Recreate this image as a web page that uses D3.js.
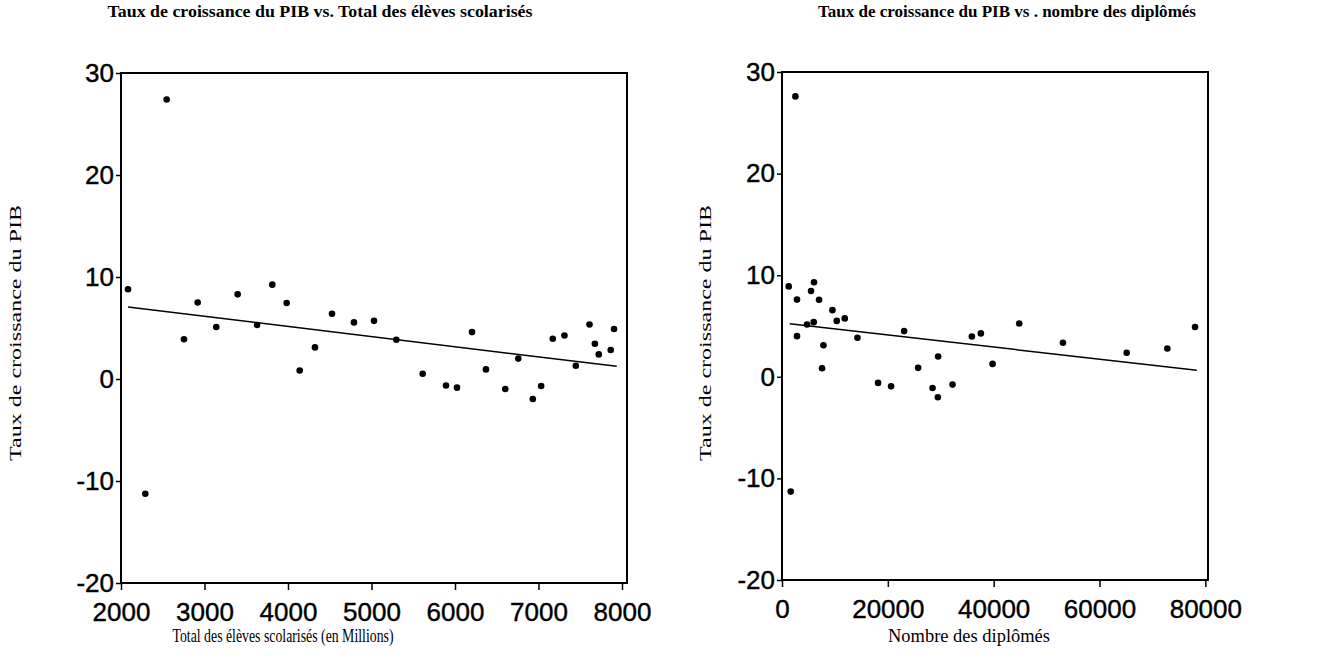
<!DOCTYPE html>
<html>
<head>
<meta charset="utf-8">
<script src="https://cdn.jsdelivr.net/npm/d3@7"></script>
<style>
  html, body { margin: 0; padding: 0; background: #fff; }
  svg { display: block; }
</style>
</head>
<body>
<svg id="chart" width="1340" height="670"></svg>
<script>
// ---- Data ----
const eleves = [2547, 2084, 2918, 2754, 3141, 3397, 3629, 3812, 3984, 4323, 4527, 4790, 5030, 5297, 6204,
  4140, 5613, 5892, 6024, 6371, 6602, 6758, 2291, 6932, 7032, 7171, 7311, 7447, 7611, 7675, 7722, 7865, 7905];
const croissanceA = [27.4, 8.8, 7.5, 3.9, 5.1, 8.3, 5.3, 9.25, 7.45, 3.1, 6.4, 5.55, 5.7, 3.85, 4.6,
  0.84, 0.52, -0.63, -0.85, 0.94, -0.98, 2.0, -11.25, -1.96, -0.69, 3.95, 4.27, 1.3, 5.35, 3.46, 2.41, 2.84, 4.9];
const fitAx = [2084, 7937];
const fitAy = [7.06, 1.24];

const diplomes = [2534, 1267, 2837, 2837, 4728, 5485, 6052, 5996, 6998, 7830, 9531, 10345, 11858, 14260, 23074,
  35877, 37579, 44822, 53088, 65134, 72813, 78052, 29504, 7565, 18156, 20615, 25721, 28444, 29447, 32227, 39792, 1645];
const croissanceB = [27.6, 8.9, 7.6, 4.0, 5.15, 8.44, 9.3, 5.38, 7.59, 3.1, 6.56, 5.5, 5.75, 3.84, 4.5,
  3.97, 4.27, 5.25, 3.35, 2.36, 2.78, 4.9, 2.0, 0.84, -0.6, -0.94, 0.88, -1.1, -2.02, -0.77, 1.27, -11.3];
const fitBx = [1456, 78375];
const fitBy = [5.22, 0.64];

const yTicks = [-20, -10, 0, 10, 20, 30];
const xTicksA = [2000, 3000, 4000, 5000, 6000, 7000, 8000];
const xTicksB = [0, 20000, 40000, 60000, 80000];

const titleA = "Taux de croissance du PIB vs. Total des élèves scolarisés";
const titleB = "Taux de croissance du PIB vs . nombre des diplômés";
const xLabelA = "Total des élèves scolarisés (en Millions)";
const xLabelB = "Nombre des diplômés";
const yLabel = "Taux de croissance du PIB";

const svg = d3.select("#chart");
const serif = "'Liberation Serif', 'Times New Roman', serif";

function panel(cfg) {
  const x = d3.scaleLinear().domain(cfg.xDomain).range([cfg.left, cfg.right]);
  const y = d3.scaleLinear().domain([-20, 30]).range([cfg.bottom, cfg.top]);
  const g = svg.append("g");

  // frame
  g.append("rect")
    .attr("x", cfg.left).attr("y", cfg.top)
    .attr("width", cfg.right - cfg.left).attr("height", cfg.bottom - cfg.top)
    .attr("fill", "none").attr("stroke", "#000").attr("stroke-width", 2);

  // axes
  const fmt = d => String(d);
  const ay = g.append("g").attr("transform", `translate(${cfg.left},0)`)
    .call(d3.axisLeft(y).tickValues(yTicks).tickSize(5).tickPadding(2).tickFormat(fmt));
  const ax = g.append("g").attr("transform", `translate(0,${cfg.bottom})`)
    .call(d3.axisBottom(x).tickValues(cfg.xTicks).tickSize(7).tickPadding(11).tickFormat(fmt));
  [ax, ay].forEach(a => {
    a.select(".domain").remove();
    a.selectAll("line").attr("stroke", "#000").attr("stroke-width", 1.5);
    a.selectAll("text").attr("fill", "#000")
      .attr("stroke", "#000").attr("stroke-width", 0.4)
      .style("font-family", "'Liberation Sans', Arial, sans-serif")
      .style("font-size", "26px");
  });
  ax.selectAll("text").attr("dy", "0.75em");

  // fit line
  const line = d3.line().x(d => x(d[0])).y(d => y(d[1]));
  g.append("path").datum(d3.zip(cfg.fitX, cfg.fitY))
    .attr("d", line).attr("fill", "none").attr("stroke", "#000").attr("stroke-width", 1.5);

  // points
  g.selectAll("circle").data(d3.zip(cfg.xs, cfg.ys)).join("circle")
    .attr("cx", d => x(d[0])).attr("cy", d => y(d[1])).attr("r", 3.3).attr("fill", "#000");

  // title
  g.append("text").attr("x", cfg.titleX).attr("y", 17).attr("text-anchor", "middle")
    .attr("textLength", cfg.titleLen).attr("lengthAdjust", "spacingAndGlyphs")
    .style("font-family", serif)
    .style("font-weight", "bold").style("font-size", "16px").text(cfg.title);

  // x label
  g.append("text").attr("x", cfg.xLabelX).attr("y", 642).attr("text-anchor", "middle")
    .attr("textLength", cfg.xLabelLen).attr("lengthAdjust", "spacingAndGlyphs")
    .style("font-family", serif)
    .style("font-size", "18px").text(cfg.xLabel);

  // y label
  g.append("text").attr("transform", `translate(${cfg.yLabelX},333) rotate(-90)`)
    .attr("text-anchor", "middle")
    .attr("textLength", 256).attr("lengthAdjust", "spacingAndGlyphs")
    .style("font-family", serif)
    .style("font-size", "17px").text(yLabel);
}

panel({
  left: 121, right: 627, top: 73, bottom: 583,
  xDomain: [2000, 8060], xTicks: xTicksA, xs: eleves, ys: croissanceA,
  fitX: fitAx, fitY: fitAy,
  title: titleA, titleX: 320, titleLen: 425,
  xLabel: xLabelA, xLabelX: 283, xLabelLen: 221, yLabelX: 21
});
panel({
  left: 782, right: 1208, top: 72, bottom: 580,
  xDomain: [0, 80500], xTicks: xTicksB, xs: diplomes, ys: croissanceB,
  fitX: fitBx, fitY: fitBy,
  title: titleB, titleX: 1007, titleLen: 378,
  xLabel: xLabelB, xLabelX: 969, xLabelLen: 162, yLabelX: 711
});
</script>
</body>
</html>
